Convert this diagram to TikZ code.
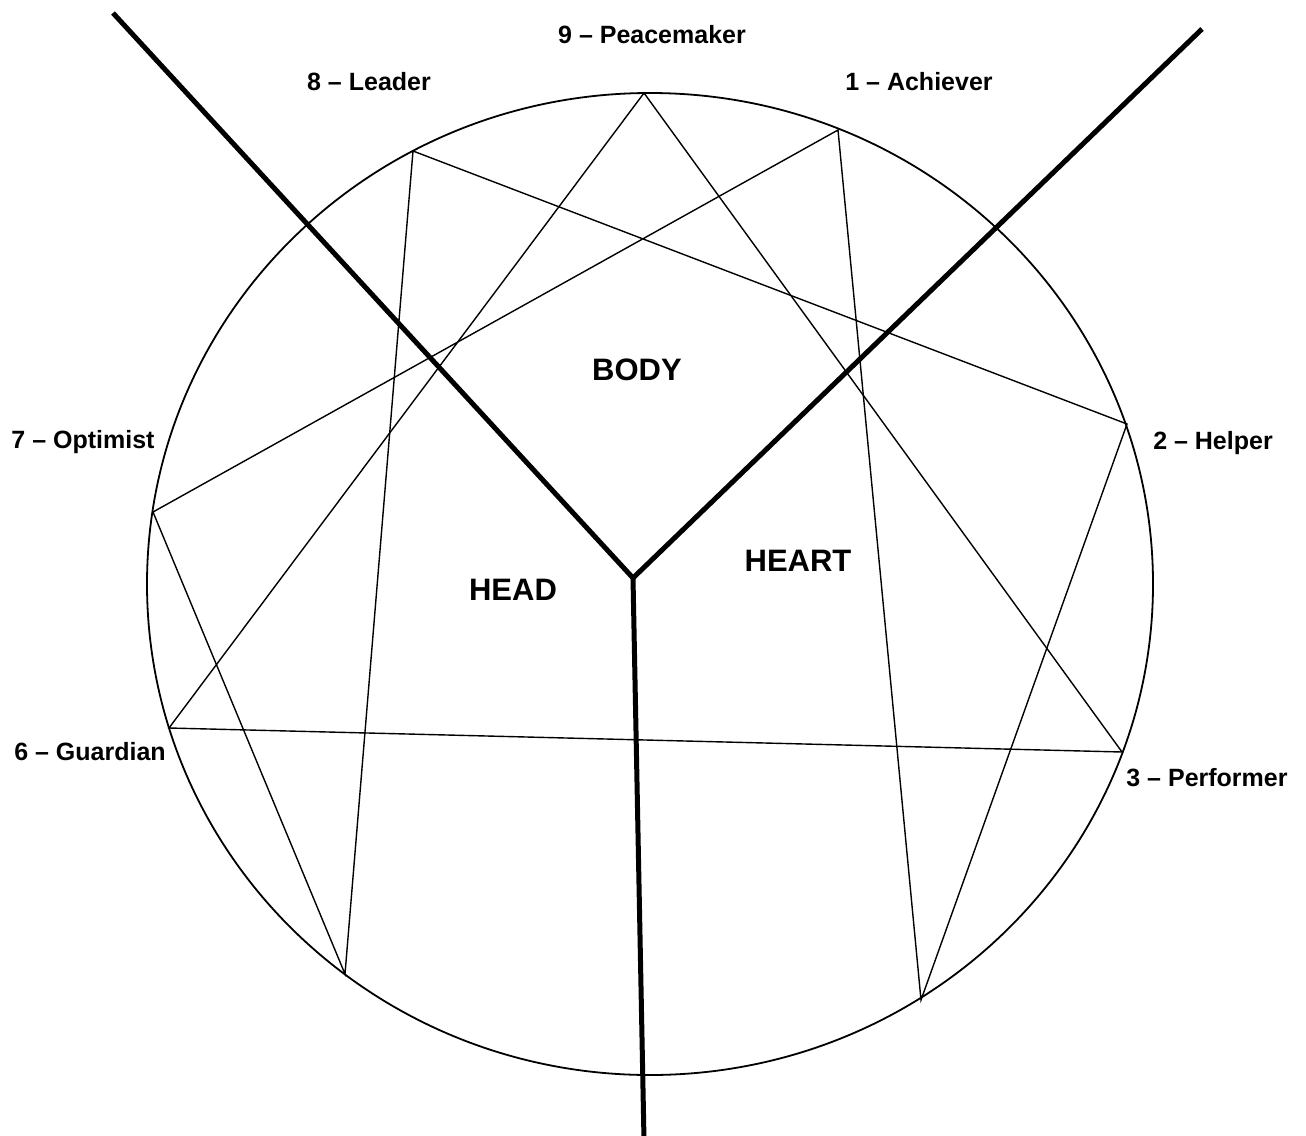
\documentclass[tikz,border=0pt]{standalone}
\usepackage{fontspec}
\setmainfont{Liberation Sans}
\begin{document}
\begin{tikzpicture}[x=1pt,y=-1pt,
  thinline/.style={line width=1.4pt, line join=miter},
  zone/.style={line width=5pt, line join=miter},
  rim/.style={line width=1.8pt},
  lbl/.style={font=\fontsize{25}{28}\selectfont\bfseries, inner sep=0pt},
  centerlbl/.style={font=\fontsize{31}{35}\selectfont\bfseries, inner sep=0pt}]
\useasboundingbox[fill=white] (0,0) rectangle (1306,1135);
\draw[rim] (650,584) ellipse [x radius=503, y radius=491];
\coordinate (p9) at (644,93);
\coordinate (p1) at (838,130);
\coordinate (p2) at (1127,424);
\coordinate (p3) at (1122,752);
\coordinate (p4) at (921,1000);
\coordinate (p5) at (345,974);
\coordinate (p6) at (169,728);
\coordinate (p7) at (153,512);
\coordinate (p8) at (413,151);
\draw[thinline] (p9) -- (p3) -- (p6) -- cycle;
\draw[thinline] (p1) -- (p4) -- (p2) -- (p8) -- (p5) -- (p7) -- cycle;
\coordinate (tl) at (113,13);
\coordinate (tr) at (1202,29);
\coordinate (j) at (633,578);
\coordinate (b) at (644,1140);
\draw[zone] (tl) -- (j) -- (tr);
\draw[zone] (j) -- (b);
\node[lbl] (l9) at (652,35) {9 – Peacemaker};
\node[lbl] (l8) at (369,82) {8 – Leader};
\node[lbl] (l1) at (919,82) {1 – Achiever};
\node[lbl] (l7) at (83,442) {7 – Optimist};
\node[lbl] (l2) at (1213,443) {2 – Helper};
\node[lbl] (l6) at (90,752) {6 – Guardian};
\node[lbl] (l3) at (1207,778) {3 – Performer};
\node[centerlbl] (body) at (637,370) {BODY};
\node[centerlbl] (head) at (513,590) {HEAD};
\node[centerlbl] (heart) at (798,561) {HEART};
\end{tikzpicture}
\end{document}
